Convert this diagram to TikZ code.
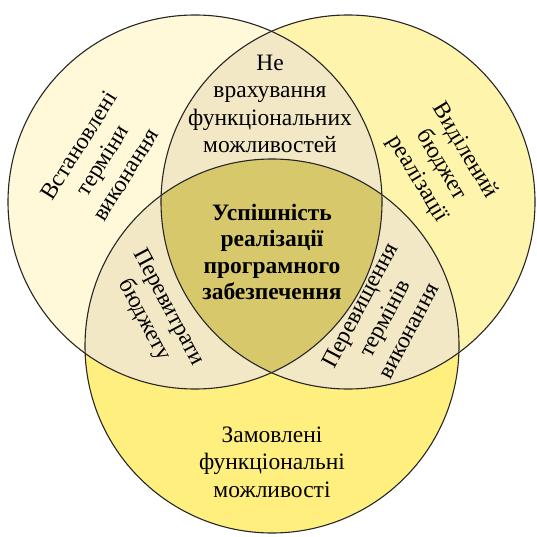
\documentclass[tikz,border=0pt]{standalone}
\usepackage{fontspec}
\setmainfont{Liberation Serif}
\definecolor{termsfill}{HTML}{FFF9DA}
\definecolor{budgetfill}{HTML}{FFF4AC}
\definecolor{orderfill}{HTML}{FFEF7E}
\definecolor{lensfill}{HTML}{F3E8C6}
\definecolor{corefill}{HTML}{D7C86C}

\begin{document}
\begin{tikzpicture}[x=1pt,y=-1pt,
        vennline/.style={draw=black!85,line width=1.1pt},
        lbl/.style={align=center,inner sep=0pt,font=\fontsize{23.5}{27.5}\selectfont}]
        \useasboundingbox (0,0) rectangle (536,537);
        \coordinate (T) at (195,202);
        \coordinate (B) at (348,202);
        \coordinate (Z) at (272,346);
        \def\rr{187pt}
        % circles
        \foreach \c/\f in {T/termsfill,B/budgetfill,Z/orderfill} {
            \fill[\f] (\c) circle (\rr);
        }
        % pairwise overlaps
        \foreach \p/\q in {T/B,T/Z,B/Z} {
            \scope
                \clip (\p) circle (\rr);
                \fill[lensfill] (\q) circle (\rr);
            \endscope
        }
        \scope
            \clip (T) circle (\rr);
            \clip (B) circle (\rr);
            \fill[corefill] (Z) circle (\rr);
        \endscope
        \foreach \c in {T,B,Z} {
            \path[vennline] (\c) circle (\rr);
        }
        % labels
        \node[lbl,rotate=58] (setTerms) at (102,160) {Встановлені\\терміни\\виконання};
        \node[lbl,rotate=-59] (givenBudget) at (441,165) {Виділений\\бюджет\\реалізації};
        \node[lbl] (notCounted) at (270,104) {Не\\врахування\\функціональних\\можливостей};
        \node[lbl,font=\fontsize{23.5}{26.5}\selectfont\bfseries] (success) at (272,252) {Успішність\\реалізації\\програмного\\забезпечення};
        \node[lbl,rotate=-62] (overBudget) at (156,314) {Перевитрати\\бюджету};
        \node[lbl,rotate=62] (overTime) at (384,318) {Перевищення\\термінів\\виконання};
        \node[lbl] (ordered) at (272,462) {Замовлені\\функціональні\\можливості};
\end{tikzpicture}
\end{document}
